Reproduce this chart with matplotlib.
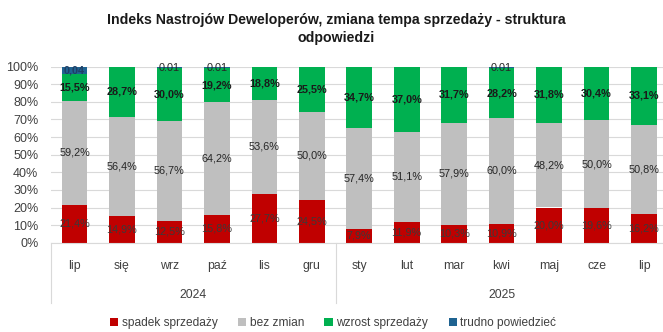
import matplotlib
matplotlib.use("Agg")
import matplotlib.pyplot as plt
from matplotlib import font_manager as fm
from matplotlib.patches import Patch

names = sorted({f.name for f in fm.fontManager.ttflist})
NARROW = "Liberation Sans Narrow" if "Liberation Sans Narrow" in names else "Liberation Sans"
plt.rcParams['font.family'] = [NARROW, 'DejaVu Sans']

months = ["lip", "się", "wrz", "paź", "lis", "gru", "sty", "lut", "mar", "kwi", "maj", "cze", "lip"]
years = ["2024", "2025"]
year_counts = [6, 7]
spadek = [21.4, 14.9, 12.5, 15.8, 27.7, 24.5, 7.9, 11.9, 10.3, 10.9, 20.0, 19.6, 16.2]
bez_zmian = [59.2, 56.4, 56.7, 64.2, 53.6, 50.0, 57.4, 51.1, 57.9, 60.0, 48.2, 50.0, 50.8]
wzrost = [15.5, 28.7, 30.0, 19.2, 18.8, 25.5, 34.7, 37.0, 31.7, 28.2, 31.8, 30.4, 33.1]
trudno = [3.9, 0.0, 0.8, 0.8, 0.0, 0.0, 0.0, 0.0, 0.0, 0.9, 0.0, 0.0, 0.0]
trudno_labels = ["0,04", "", "0.01", "0.01", "", "", "", "", "", "0.01", "", "", ""]
series_names = ["spadek sprzedaży", "bez zmian", "wzrost sprzedaży", "trudno powiedzieć"]
colors = ["#C00000", "#BFBFBF", "#00B050", "#1F6391"]

W, H = 663, 332
fig = plt.figure(figsize=(W / 100, H / 100), dpi=100)
ax = fig.add_axes([50.8 / W, (H - 242.7) / H, (667.7 - 50.8) / W, (242.7 - 66.7) / H])

x = list(range(len(months)))
bw = 0.54
bottom = [0.0] * len(x)
data = [spadek, bez_zmian, wzrost, trudno]
for vals, col in zip(data, colors):
    ax.bar(x, vals, bw, bottom=bottom, color=col, zorder=2)
    bottom = [b + v for b, v in zip(bottom, vals)]

fs = 7.8
for i in x:
    ax.text(i, spadek[i] / 2, f"{spadek[i]:.1f}%".replace(".", ","), ha="center", va="center",
            fontsize=fs, color="#3A3A3A", zorder=3)
    b = spadek[i]
    ax.text(i, b + bez_zmian[i] / 2, f"{bez_zmian[i]:.1f}%".replace(".", ","), ha="center", va="center",
            fontsize=fs, color="#262626", zorder=3)
    b += bez_zmian[i]
    ax.text(i, b + wzrost[i] / 2, f"{wzrost[i]:.1f}%".replace(".", ","), ha="center", va="center",
            fontsize=fs, color="#1A1A1A", fontweight="bold", zorder=3)
    b += wzrost[i]
    if trudno_labels[i]:
        if i == 0:
            ax.text(i, b + trudno[i] / 2, trudno_labels[i], ha="center", va="center",
                    fontsize=fs, color="#1F3F66", fontweight="bold", zorder=3)
        else:
            ax.text(i, 99.0, trudno_labels[i], ha="center", va="center",
                    fontsize=fs, color="#262626", zorder=3)

ax.set_xlim(-0.5, len(x) - 0.5)
ax.set_ylim(0, 100)
ax.set_yticks(range(0, 101, 10))
ax.set_yticklabels([f"{v}%" for v in range(0, 101, 10)], fontsize=9, color="#404040")
ax.tick_params(axis="y", length=0, pad=9)
ax.yaxis.grid(True, color="#D9D9D9", linewidth=0.8, zorder=0)
ax.set_axisbelow(True)
for s in ["top", "right", "left"]:
    ax.spines[s].set_visible(False)
ax.spines["bottom"].set_color("#D9D9D9")
ax.set_xticks([])

tr = ax.get_xaxis_transform()
ax_h = 242.7 - 66.7
for i, m in enumerate(months):
    ax.text(i, -(266 - 242.7) / ax_h, m, ha="center", va="center", fontsize=8.8, color="#404040",
            transform=tr, clip_on=False)
start = 0
seps = [-0.5]
for yname, n in zip(years, year_counts):
    center = start + (n - 1) / 2
    ax.text(center, -(295 - 242.7) / ax_h, yname, ha="center", va="center", fontsize=8.8,
            color="#404040", transform=tr, clip_on=False)
    start += n
    seps.append(start - 0.5)
for s in seps:
    ax.plot([s, s], [0, -(303 - 242.7) / ax_h], color="#D9D9D9", linewidth=0.8,
            transform=tr, clip_on=False)

fig.text(336 / W, 1 - 29 / H, "Indeks Nastrojów Deweloperów, zmiana tempa sprzedaży - struktura\nodpowiedzi",
         ha="center", va="center", fontsize=10.2, fontweight="bold", color="#1A1A1A", linespacing=1.35)

handles = [Patch(facecolor=c, edgecolor="none") for c in colors]
fig.legend(handles, series_names, loc="center", bbox_to_anchor=(333 / W, 1 - 323 / H), ncol=4,
           frameon=False, fontsize=8.6, handlelength=0.7, handleheight=0.7, handletextpad=0.3,
           columnspacing=1.7, labelcolor="#404040")

fig.savefig("out.png", dpi=100)
